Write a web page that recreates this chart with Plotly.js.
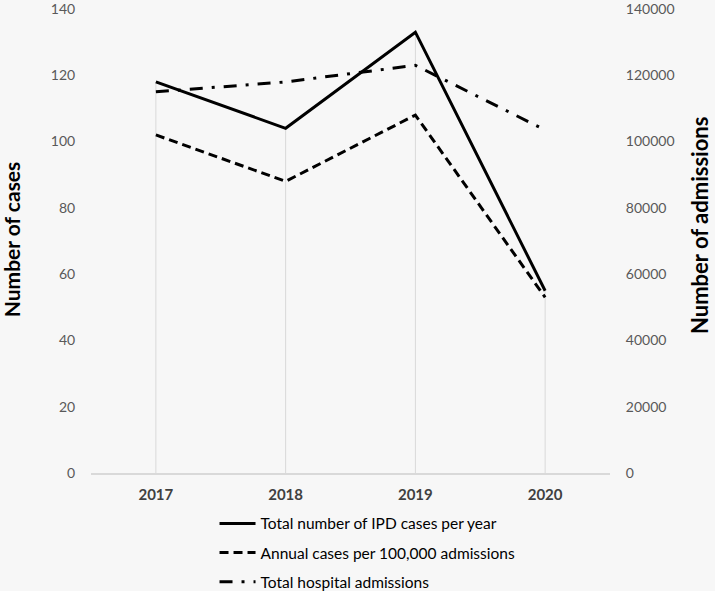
<!DOCTYPE html>
<html>
<head>
<meta charset="utf-8">
<script src="https://cdn.plot.ly/plotly-3.0.1.min.js"></script>
<style>html,body{margin:0;padding:0;background:#f7f7f7;}#chart{width:715px;height:591px;}</style>
</head>
<body>
<div id="chart"></div>
<script>
const years = ['2017', '2018', '2019', '2020'];
const totalCases = [118, 104, 133, 55];
const casesPer100k = [102, 88, 108, 53];
const admissions = [115000, 118000, 123000, 103500];
const seriesNames = ['Total number of IPD cases per year', 'Annual cases per 100,000 admissions', 'Total hospital admissions'];
const leftTitle = 'Number of cases';
const rightTitle = 'Number of admissions';

// drop lines from primary-axis maximum down to zero
const dropX = [], dropY = [];
years.forEach((yr, i) => {
  dropX.push(yr, yr, null);
  dropY.push(0, Math.max(totalCases[i], casesPer100k[i]), null);
});

const font = 'Lato, "Open Sans", sans-serif';
const traces = [
  {x: dropX, y: dropY, mode: 'lines', line: {color: '#d9d9d9', width: 1}, showlegend: false, hoverinfo: 'skip'},
  {x: years, y: totalCases, name: seriesNames[0], mode: 'lines', line: {color: '#000', width: 3}, legendgroup: 'a'},
  {x: years, y: casesPer100k, name: seriesNames[1], mode: 'lines', line: {color: '#000', width: 3, dash: '9px,5px'}, legendgroup: 'b'},
  {x: years, y: admissions, name: seriesNames[2], yaxis: 'y2', mode: 'lines', line: {color: '#000', width: 3, dash: '13px,9px,3px,9px'}, legendgroup: 'c'}
];

const layout = {
  width: 715, height: 591,
  paper_bgcolor: '#f7f7f7', plot_bgcolor: '#f7f7f7',
  margin: {l: 91, r: 105, t: 9, b: 118, autoexpand: false},
  font: {family: font, color: '#595959', size: 14},
  showlegend: true,
  legend: {x: 0.238, xanchor: 'left', y: -0.073, yanchor: 'top', orientation: 'v',
    traceorder: 'grouped', tracegroupgap: 6, itemwidth: 36,
    font: {family: font, size: 15.5, color: '#000'}, bgcolor: 'rgba(0,0,0,0)'},
  xaxis: {type: 'category', range: [-0.5, 3.5], showgrid: false, zeroline: false,
    showline: true, linecolor: '#d9d9d9', linewidth: 1.5,
    ticks: 'outside', ticklen: 7, tickcolor: 'rgba(0,0,0,0)',
    tickfont: {family: font, size: 15, color: '#404040', weight: 'bold'}},
  yaxis: {range: [0, 140], dtick: 20, showgrid: false, zeroline: false, showline: false,
    ticks: 'outside', ticklen: 12, tickcolor: 'rgba(0,0,0,0)', ticklabeloverflow: 'allow',
    tickfont: {family: font, size: 14, color: '#595959'}},
  yaxis2: {range: [0, 140000], dtick: 20000, tickformat: 'd', overlaying: 'y', side: 'right', showgrid: false, zeroline: false, showline: false,
    ticks: 'outside', ticklen: 12, tickcolor: 'rgba(0,0,0,0)', ticklabeloverflow: 'allow',
    tickfont: {family: font, size: 14, color: '#595959'}},
  annotations: [
    {text: leftTitle, xref: 'paper', yref: 'paper', x: -0.154, y: 0.504, xanchor: 'center', yanchor: 'middle',
      textangle: -90, showarrow: false, font: {family: font, size: 21, color: '#000', weight: 'bold'}},
    {text: rightTitle, xref: 'paper', yref: 'paper', x: 1.171, y: 0.534, xanchor: 'center', yanchor: 'middle',
      textangle: -90, showarrow: false, font: {family: font, size: 22, color: '#000', weight: 'bold'}}
  ]
};

Plotly.newPlot('chart', traces, layout, {displayModeBar: false, staticPlot: true});
</script>
</body>
</html>
